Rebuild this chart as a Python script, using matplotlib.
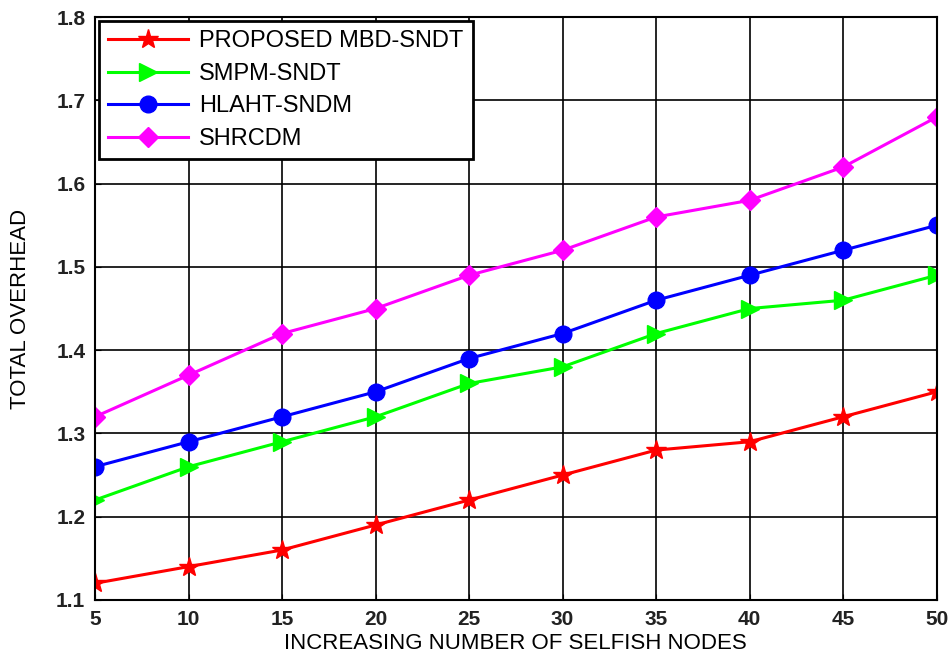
import numpy as np
import matplotlib.pyplot as plt

plt.rcParams['font.family'] = ['Liberation Sans', 'DejaVu Sans']

nodes = [5, 10, 15, 20, 25, 30, 35, 40, 45, 50]

mbd = [1.12, 1.14, 1.16, 1.19, 1.22, 1.25, 1.28, 1.29, 1.32, 1.35]
smpm = [1.22, 1.26, 1.29, 1.32, 1.36, 1.38, 1.42, 1.45, 1.46, 1.49]
hlaht = [1.26, 1.29, 1.32, 1.35, 1.39, 1.42, 1.46, 1.49, 1.52, 1.55]
shrcdm = [1.32, 1.37, 1.42, 1.45, 1.49, 1.52, 1.56, 1.58, 1.62, 1.68]

labels = ['PROPOSED MBD-SNDT', 'SMPM-SNDT', 'HLAHT-SNDM', 'SHRCDM']

fig = plt.figure(figsize=(9.5, 6.6), dpi=100)
ax = fig.add_axes([0.1, 0.091, 0.886, 0.883])

ax.plot(nodes, mbd, color='red', marker='*', markersize=15, lw=2.2, label=labels[0])
ax.plot(nodes, smpm, color='#00ff00', marker='>', markersize=13, lw=2.2, label=labels[1])
ax.plot(nodes, hlaht, color='blue', marker='o', markersize=12, lw=2.2, label=labels[2])
ax.plot(nodes, shrcdm, color='magenta', marker='D', markersize=10, lw=2.2, label=labels[3])

ax.set_xlim(5, 50)
ax.set_ylim(1.1, 1.8)
ax.set_xticks(nodes)
ax.set_yticks(np.arange(1.1, 1.81, 0.1))
ax.set_yticklabels(['%.1f' % v for v in np.arange(1.1, 1.81, 0.1)])
ax.grid(True, color='black', linestyle='-', linewidth=1.2)
ax.tick_params(direction='in', length=4, labelsize=15, pad=7)
for lab in ax.get_yticklabels() + ax.get_xticklabels():
    lab.set_fontweight('semibold')
    lab.set_color('#222222')
for s in ax.spines.values():
    s.set_linewidth(1.5)

ax.set_xlabel('INCREASING NUMBER OF SELFISH NODES', fontsize=16, labelpad=3)
ax.set_ylabel('TOTAL OVERHEAD', fontsize=16, labelpad=18)

leg = ax.legend(loc='upper left', fontsize=17, frameon=True, fancybox=False,
                borderaxespad=0.15, handlelength=3.4, labelspacing=0.45,
                borderpad=0.4, handletextpad=0.45)
leg.get_frame().set_edgecolor('black')
leg.get_frame().set_linewidth(2)
leg.get_frame().set_alpha(1)

fig.savefig('out.png', dpi=100)
